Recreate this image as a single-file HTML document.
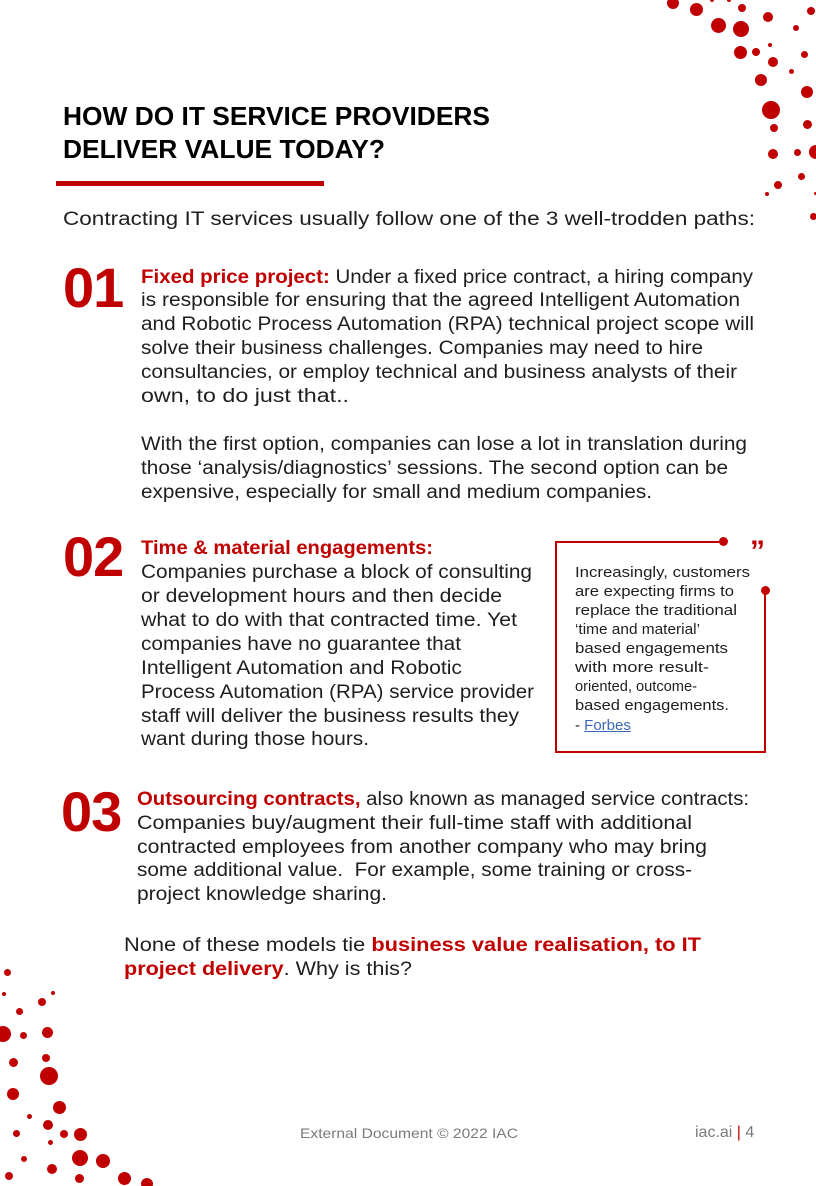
<!DOCTYPE html>
<html><head><meta charset="utf-8">
<style>
body{margin:0;background:#fff;}
#page{position:relative;width:816px;height:1186px;overflow:hidden;background:#fff;font-family:"Liberation Sans",sans-serif;color:#1e1e1e;}
.l{position:absolute;white-space:nowrap;font-size:19px;line-height:24px;transform-origin:0 50%;}
.t{position:absolute;white-space:nowrap;font-size:26px;font-weight:bold;color:#000;line-height:32px;transform-origin:0 50%;}
.n{position:absolute;font-size:56px;font-weight:bold;color:#c00000;line-height:56px;letter-spacing:-1px;}
.r{color:#c00000;font-weight:bold;}
.q{position:absolute;white-space:nowrap;font-size:15px;line-height:19px;color:#1e1e1e;transform-origin:0 50%;}
.dot{position:absolute;border-radius:50%;background:#c00000;}
</style></head><body>
<div id="page">
<div id="dots"></div>

<div class="t" style="left:63px;top:100px" data-w="427">HOW DO IT SERVICE PROVIDERS</div>
<div class="t" style="left:63px;top:133px" data-w="322">DELIVER VALUE TODAY?</div>
<div style="position:absolute;left:56px;top:181px;width:268px;height:5px;background:#c00000"></div>

<div class="l" style="left:63px;top:208px" data-w="692">Contracting IT services usually follow one of the 3 well-trodden paths:</div>

<div class="n" style="left:63px;top:260px">01</div>
<div class="l" style="left:141px;top:266px" data-w="612"><span class="r">Fixed price project:</span> Under a fixed price contract, a hiring company</div>
<div class="l" style="left:141px;top:289px" data-w="599">is responsible for ensuring that the agreed Intelligent Automation</div>
<div class="l" style="left:141px;top:313px" data-w="613">and Robotic Process Automation (RPA) technical project scope will</div>
<div class="l" style="left:141px;top:337px" data-w="562">solve their business challenges. Companies may need to hire</div>
<div class="l" style="left:141px;top:361px" data-w="596">consultancies, or employ technical and business analysts of their</div>
<div class="l" style="left:141px;top:385px" data-w="208">own, to do just that..</div>
<div class="l" style="left:141px;top:433px" data-w="606">With the first option, companies can lose a lot in translation during</div>
<div class="l" style="left:141px;top:457px" data-w="587">those ‘analysis/diagnostics’ sessions. The second option can be</div>
<div class="l" style="left:141px;top:481px" data-w="511">expensive, especially for small and medium companies.</div>

<div class="n" style="left:63px;top:529px">02</div>
<div class="l" style="left:141px;top:537px" data-w="292"><span class="r">Time &amp; material engagements:</span></div>
<div class="l" style="left:141px;top:561px" data-w="391">Companies purchase a block of consulting</div>
<div class="l" style="left:141px;top:585px" data-w="361">or development hours and then decide</div>
<div class="l" style="left:141px;top:609px" data-w="376">what to do with that contracted time. Yet</div>
<div class="l" style="left:141px;top:633px" data-w="320">companies have no guarantee that</div>
<div class="l" style="left:141px;top:657px" data-w="321">Intelligent Automation and Robotic</div>
<div class="l" style="left:141px;top:681px" data-w="393">Process Automation (RPA) service provider</div>
<div class="l" style="left:141px;top:705px" data-w="378">staff will deliver the business results they</div>
<div class="l" style="left:141px;top:728px" data-w="228">want during those hours.</div>

<div style="position:absolute;left:555px;top:541px;width:211px;height:212px;border-left:2px solid #c00000;border-bottom:2px solid #c00000;box-sizing:border-box"></div>
<div style="position:absolute;left:555px;top:541px;width:168px;height:2px;background:#c00000"></div>
<div style="position:absolute;left:764px;top:591px;width:2px;height:162px;background:#c00000"></div>
<div class="dot" style="left:719px;top:537px;width:9px;height:9px"></div>
<div class="dot" style="left:761px;top:586px;width:9px;height:9px"></div>
<div style="position:absolute;left:750px;top:534px;font-size:30px;font-weight:bold;color:#c00000;line-height:36px">”</div>
<div class="q" style="left:575px;top:563px" data-w="175">Increasingly, customers</div>
<div class="q" style="left:575px;top:582px" data-w="159">are expecting firms to</div>
<div class="q" style="left:575px;top:601px" data-w="162">replace the traditional</div>
<div class="q" style="left:575px;top:620px" data-w="125">‘time and material’</div>
<div class="q" style="left:575px;top:639px" data-w="153">based engagements</div>
<div class="q" style="left:575px;top:658px" data-w="134">with more result-</div>
<div class="q" style="left:575px;top:677px" data-w="122">oriented, outcome-</div>
<div class="q" style="left:575px;top:696px" data-w="154">based engagements.</div>
<div class="q" style="left:575px;top:716px">- <span style="color:#3b66b8;text-decoration:underline">Forbes</span></div>

<div class="n" style="left:61px;top:784px">03</div>
<div class="l" style="left:137px;top:788px" data-w="612"><span class="r">Outsourcing contracts,</span> also known as managed service contracts:</div>
<div class="l" style="left:137px;top:812px" data-w="555">Companies buy/augment their full-time staff with additional</div>
<div class="l" style="left:137px;top:836px" data-w="570">contracted employees from another company who may bring</div>
<div class="l" style="left:137px;top:859px" data-w="555">some additional value.&nbsp; For example, some training or cross-</div>
<div class="l" style="left:137px;top:883px" data-w="250">project knowledge sharing.</div>

<div class="l" style="left:124px;top:934px" data-w="577">None of these models tie <span class="r">business value realisation, to IT</span></div>
<div class="l" style="left:124px;top:958px" data-w="288"><span class="r">project delivery</span>. Why is this?</div>

<div style="position:absolute;left:300px;top:1125px;font-size:14px;color:#7a7a7a;white-space:nowrap;transform-origin:0 50%" data-w="218">External Document © 2022 IAC</div>
<div style="position:absolute;left:695px;top:1124px;font-size:16px;color:#7a7a7a;white-space:nowrap">iac.ai <span style="color:#c00000">|</span> 4</div>
</div>
<script>
const dotX=[673,696,712,729,742,768,811,718,741,796,740,756,770,773,804,791,761,807,771,774,807,773,797,816,801,778,767,815,813,7,4,53,42,19,3,23,47,13,46,49,13,59,29,48,16,64,80,50,80,103,24,52,9,79,124,147];
const dotY=[3,9,0,0,8,17,11,25,29,28,52,52,45,62,54,71,80,92,110,128,124,154,152,152,176,185,194,193,216,972,994,993,1002,1011,1034,1035,1032,1062,1058,1076,1094,1107,1116,1125,1133,1134,1134,1142,1158,1161,1159,1169,1176,1178,1178,1184];
const dotR=[6,6.5,2,2,4,5,4,7.5,8,3,6.5,4,2,5,3.5,2.5,6,6,9,4,4.5,5,3.5,7,3.5,4,2,1.5,3.5,3.5,2,2,4,3.5,8,3.5,5.5,4.5,4,9,6,6.5,2.5,5,3.5,4,6.5,2.5,8,7,3,5,4,4.5,6.5,6];
const dc=document.getElementById('dots');
for(let i=0;i<dotX.length;i++){
  const d=document.createElement('div');
  
  
  d.className='dot';
  d.style.left=(dotX[i]-dotR[i])+'px';d.style.top=(dotY[i]-dotR[i])+'px';
  d.style.width=d.style.height=(2*dotR[i])+'px';
  dc.appendChild(d);
}
document.querySelectorAll('[data-w]').forEach(el=>{
  const target=+el.getAttribute('data-w');
  const w=el.getBoundingClientRect().width;
  if(w>0){el.style.transform='scaleX('+(target/w)+')';}
});
</script>
</body></html>
